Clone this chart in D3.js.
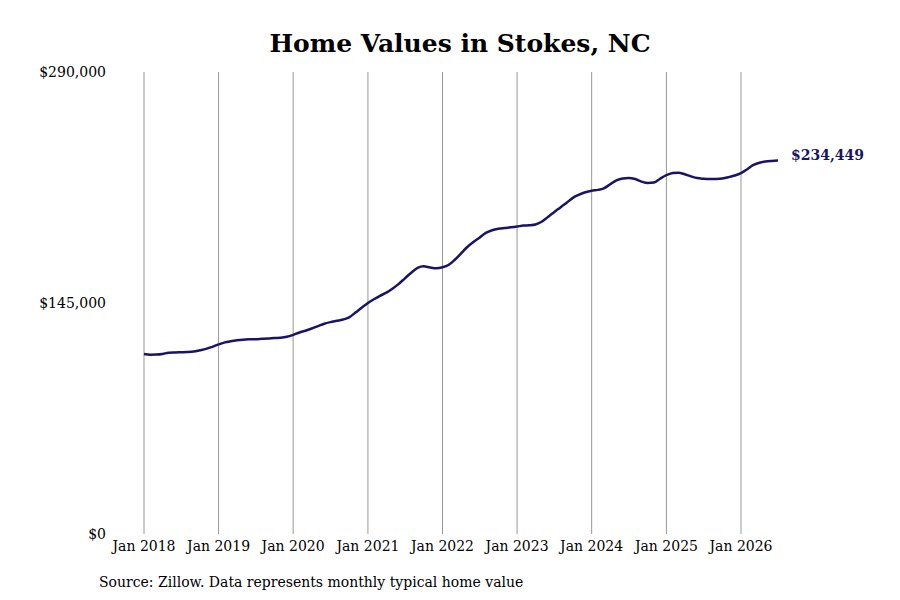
<!DOCTYPE html>
<html><head><meta charset="utf-8">
<script src="https://d3js.org/d3.v7.min.js"></script>
<style>body{margin:0;background:#fff}</style></head>
<body><svg id="c" width="900" height="600"></svg>
<script>
const startYear = 2018;
const values = [
113,112.5,112.6,113,113.8,114,114.1,114.2,114.5,115.3,116.2,117.5,
119,120.3,121,121.6,122,122.2,122.3,122.5,122.7,123,123.2,123.8,
125,126.5,127.6,129,130.5,132,133,133.8,134.6,136,139,142,
145,147.5,149.5,151.5,154,157,160.5,164,167,168,167.3,166.8,
167.4,169,172,176,180,183.3,186,189,190.7,191.6,192.1,192.5,
193,193.6,193.8,194.3,196,199,202,205,208,211,213,214.5,
215.5,216,217,219.5,222,223.2,223.5,222.8,221.2,220.3,220.6,223,
225.2,226.6,226.8,225.8,224.5,223.4,223,222.8,222.9,223.2,224,225,
226.5,229,231.5,233,233.8,234.2,234.449
].map(v=>v*1000);
const tickYears = [2018,2019,2020,2021,2022,2023,2024,2025,2026];
const yTicks = [0,145000,290000];
const title = "Home Values in Stokes, NC";
const source = "Source: Zillow. Data represents monthly typical home value";

const svg = d3.select("#c");
const font = "DejaVu Serif, serif";
const x = d3.scaleTime().domain([new Date(2018,0,1), new Date(2026,0,1)]).range([144,741]);
const y = d3.scaleLinear().domain([0,290000]).range([534,72]);
const data = values.map((v,i)=>({d:new Date(startYear, i, 1), v}));

svg.append("text").attr("x",460).attr("y",52).attr("text-anchor","middle")
  .attr("font-family",font).attr("font-weight","bold").attr("font-size",25).text(title);

svg.selectAll(".g").data(tickYears).enter().append("line")
  .attr("x1",d=>x(new Date(d,0,1))).attr("x2",d=>x(new Date(d,0,1)))
  .attr("y1",72).attr("y2",534).attr("stroke","#999").attr("stroke-width",1);

svg.selectAll(".xl").data(tickYears).enter().append("text")
  .attr("x",d=>x(new Date(d,0,1))).attr("y",551).attr("text-anchor","middle")
  .attr("font-family",font).attr("font-size",14).text(d=>"Jan "+d);

svg.selectAll(".yl").data(yTicks).enter().append("text")
  .attr("x",106).attr("y",d=>y(d)+5).attr("text-anchor","end")
  .attr("font-family",font).attr("font-size",14).text(d=>"$"+d3.format(",")(d));

svg.append("path").datum(data).attr("fill","none").attr("stroke","#1a1466").attr("stroke-width",2.5)
  .attr("d",d3.line().x(d=>x(d.d)).y(d=>y(d.v)).curve(d3.curveMonotoneX));

const last = data[data.length-1];
svg.append("text").attr("x",x(last.d)+13).attr("y",y(last.v)).attr("font-family",font)
  .attr("font-weight","bold").attr("font-size",14).attr("fill","#1a1466").text("$"+d3.format(",")(last.v));

svg.append("text").attr("x",99).attr("y",587).attr("font-family",font).attr("font-size",14).text(source);
</script></body></html>
